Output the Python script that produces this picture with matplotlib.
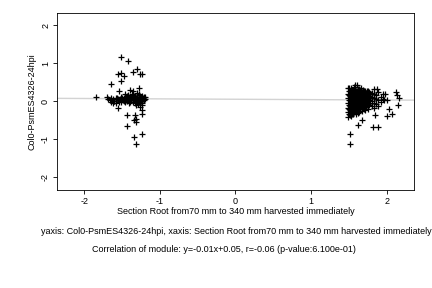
import numpy as np
import matplotlib
matplotlib.use("Agg")
import matplotlib.pyplot as plt

plt.rcParams['font.family'] = ['Liberation Sans', 'DejaVu Sans']
plt.rcParams['axes.unicode_minus'] = False

# left cluster (dense core + scattered points)
left_x = [-1.66, -1.64, -1.62, -1.60, -1.58, -1.57, -1.55, -1.53, -1.52, -1.50,
          -1.49, -1.47, -1.46, -1.45, -1.44, -1.43, -1.42, -1.41, -1.40, -1.39,
          -1.38, -1.37, -1.36, -1.35, -1.34, -1.33, -1.33, -1.32, -1.31, -1.30,
          -1.29, -1.29, -1.28, -1.27, -1.27, -1.26, -1.25, -1.25, -1.24, -1.23,
          -1.23, -1.22, -1.21, -1.21, -1.20, -1.58, -1.54, -1.48, -1.44, -1.39,
          -1.35, -1.31, -1.28, -1.24, -1.68, -1.62, -1.52, -1.42, -1.37, -1.30,
          -1.65, -1.61, -1.56, -1.51, -1.48, -1.43, -1.40, -1.38, -1.34, -1.32,
          -1.29, -1.26, -1.24, -1.22, -1.20, -1.36, -1.30, -1.25, -1.41, -1.47,
          -1.51, -1.42, -1.30, -1.36, -1.26, -1.23, -1.56, -1.51, -1.47, -1.52,
          -1.64, -1.27, -1.54, -1.46, -1.40, -1.36, -1.84, -1.70, -1.55, -1.44,
          -1.44, -1.33, -1.32, -1.34, -1.31, -1.24, -1.23, -1.34, -1.31, -1.24,
          -1.26]
left_y = [0.03, -0.02, 0.06, 0.01, -0.04, 0.08, 0.02, 0.05, -0.03, 0.09,
          0.03, 0.06, -0.02, 0.10, 0.04, 0.01, 0.08, -0.05, 0.05, 0.12,
          0.02, 0.07, -0.02, 0.10, 0.04, 0.14, -0.06, 0.06, 0.01, 0.11,
          0.03, -0.08, 0.08, 0.15, -0.03, 0.05, 0.10, 0.00, 0.13, 0.04,
          -0.05, 0.08, 0.02, 0.12, 0.06, 0.07, -0.01, 0.00, 0.13, -0.01,
          0.17, -0.10, 0.18, -0.09, 0.05, -0.04, 0.11, 0.17, 0.20, 0.22,
          0.07, 0.01, 0.05, 0.02, 0.07, 0.06, 0.02, 0.09, 0.07, 0.03,
          0.06, 0.08, 0.02, 0.05, 0.10, 0.05, 0.07, 0.06, 0.09, 0.04,
          1.17, 1.06, 0.85, 0.78, 0.71, 0.71, 0.71, 0.75, 0.66, 0.53,
          0.44, 0.36, 0.26, 0.20, 0.29, 0.27, 0.10, 0.10, -0.19, -0.37,
          -0.66, -0.37, -0.46, -0.50, -0.55, -0.24, -0.33, -0.94, -1.12, -0.87,
          -0.15]

# right cluster
right_x = [1.49] * 7 + [1.51] * 6 + [1.53] * 7 + [1.55] * 6 + [1.57] * 6 + \
          [1.59] * 6 + [1.61] * 6 + [1.63] * 6 + [1.65] * 5 + [1.67] * 5 + \
          [1.69] * 5 + [1.71] * 5 + [1.73] * 4 + [1.75] * 5 + [1.77] * 4 + \
          [1.80] * 4 + [1.83] * 5 + [1.86] * 3 + [1.89] * 3 + [1.92] * 2 + \
          [1.95] * 2 + \
          [1.50] * 6 + [1.54] * 6 + [1.58] * 6 + [1.62] * 6 + [1.66] * 5 + \
          [1.70] * 5 + [1.74] * 4 + [1.78] * 3 + \
          [1.51, 1.52, 1.62, 1.68, 1.82, 1.89, 1.84, 2.00, 2.07, 2.03,
           2.15, 2.13, 2.14, 2.17, 1.98, 2.01, 1.96, 1.87, 1.50, 1.58]
right_y = [-0.42, -0.30, -0.18, -0.05, 0.08, 0.20, 0.34,
           -0.36, -0.24, -0.12, 0.02, 0.14, 0.27,
           -0.40, -0.28, -0.15, -0.03, 0.10, 0.22, 0.36,
           -0.33, -0.20, -0.08, 0.05, 0.17, 0.30,
           -0.29, -0.16, -0.02, 0.11, 0.24, 0.38,
           -0.35, -0.22, -0.10, 0.03, 0.15, 0.28,
           -0.26, -0.13, 0.00, 0.12, 0.25, 0.43,
           -0.30, -0.18, -0.05, 0.08, 0.20, 0.33,
           -0.22, -0.09, 0.04, 0.16, 0.29,
           -0.27, -0.14, -0.01, 0.11, 0.23,
           -0.18, -0.06, 0.07, 0.19, 0.30,
           -0.24, -0.10, 0.02, 0.14, 0.26,
           -0.15, -0.03, 0.09, 0.21,
           -0.20, -0.07, 0.05, 0.17, 0.28,
           -0.10, 0.02, 0.13, 0.25,
           -0.12, 0.00, 0.11, 0.22,
           -0.18, -0.04, 0.08, 0.19, 0.31,
           -0.08, 0.05, 0.15,
           -0.14, 0.02, 0.24,
           -0.02, 0.10,
           0.06, 0.18,
           -0.33, -0.21, -0.09, 0.04, 0.15, 0.27,
           -0.35, -0.22, -0.10, 0.01, 0.13, 0.26,
           -0.27, -0.15, -0.04, 0.07, 0.19, 0.32,
           -0.31, -0.19, -0.07, 0.05, 0.16, 0.31,
           -0.16, -0.04, 0.09, 0.21, 0.34,
           -0.21, -0.09, 0.04, 0.16, 0.27,
           -0.10, 0.03, 0.14, 0.26,
           -0.05, 0.08, 0.19,
           -1.12, -0.86, -0.63, -0.50, -0.68, -0.68, -0.37, -0.40, -0.33, -0.21,
           -0.11, 0.25, 0.16, 0.07, 0.19, 0.04, 0.03, 0.31, 0.36, 0.42]

slope, intercept = -0.01, 0.05
ticks = [-2, -1, 0, 1, 2]

fig = plt.figure(figsize=(4.32, 2.88), dpi=100)
ax = fig.add_axes([0.132, 0.340, 0.826, 0.615])

xs = np.array([-2.5, 2.5])
ax.plot(xs, slope * xs + intercept, color='#d3d3d3', lw=1, zorder=1)
ax.plot(left_x + right_x, left_y + right_y, '+', color='black',
        ms=4, mew=0.9, zorder=2)

ax.set_xlim(-2.36, 2.36)
ax.set_ylim(-2.35, 2.33)
ax.set_xticks(ticks)
ax.set_yticks(ticks)
ax.tick_params(labelsize=6.5, length=3, width=0.6, pad=2)
for lab in ax.get_yticklabels():
    lab.set_rotation(90)
    lab.set_va('center')
for s in ax.spines.values():
    s.set_linewidth(0.6)

ax.set_xlabel('Section Root from70 mm to 340 mm harvested immediately',
              fontsize=6.5, labelpad=1)
ax.set_ylabel('Col0-PsmES4326-24hpi', fontsize=6.5, labelpad=3)

fig.text(236 / 432, 1 - 232 / 288,
         'yaxis: Col0-PsmES4326-24hpi, xaxis: Section Root from70 mm to 340 mm harvested immediately',
         ha='center', va='center', fontsize=6.5)
fig.text(224 / 432, 1 - 249 / 288,
         'Correlation of module: y=-0.01x+0.05, r=-0.06 (p-value:6.100e-01)',
         ha='center', va='center', fontsize=6.5)

fig.savefig('out.png', dpi=100)
